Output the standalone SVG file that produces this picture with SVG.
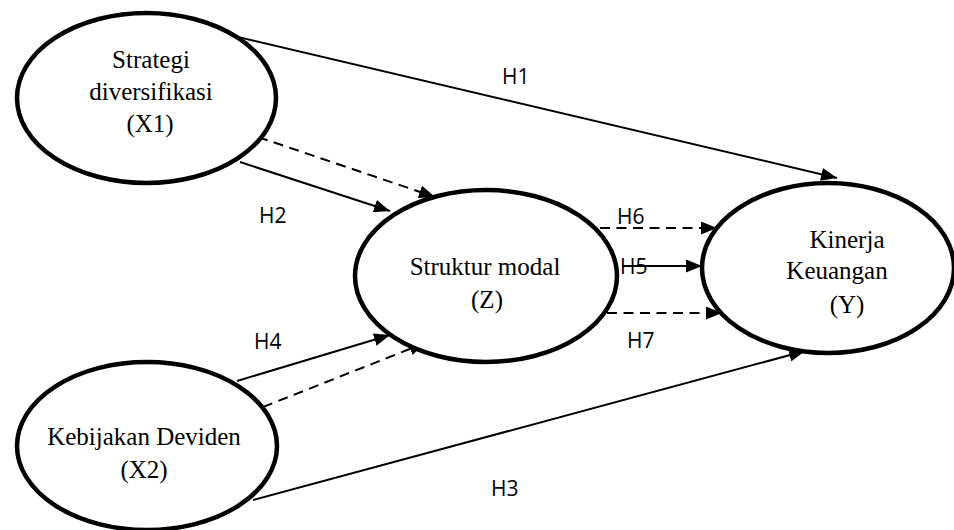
<svg xmlns="http://www.w3.org/2000/svg" width="954" height="530" viewBox="0 0 954 530">
<style>
.node{fill:#fff;stroke:#000;stroke-width:4.5}
.lbl{font-family:"Liberation Serif","Times New Roman",serif;font-size:25px;fill:#000;text-anchor:middle}
.h{font-family:"Open Sans","Liberation Sans",Arial,sans-serif;font-size:21px;fill:#000}
.c{stroke:#000;stroke-width:2;fill:none;marker-end:url(#arr)}
.d{stroke-dasharray:10 6.5}
</style>
<defs>
<marker id="arr" markerUnits="userSpaceOnUse" markerWidth="17" markerHeight="13" refX="16" refY="6.5" orient="auto">
<path d="M0,0 L16,6.5 L0,13 Z" fill="#000"/>
</marker>
</defs>
<rect width="954" height="530" fill="#fff"/>
<g id="connectors">
<line class="c" x1="238" y1="37" x2="837" y2="178"/>
<line class="c" x1="240" y1="162" x2="390" y2="211"/>
<line class="c d" x1="258" y1="137" x2="435" y2="197"/>
<line class="c d" x1="600" y1="228" x2="717" y2="228"/>
<line class="c" x1="622" y1="266" x2="702" y2="266"/>
<line class="c d" x1="607" y1="313" x2="722" y2="313"/>
<line class="c" x1="237" y1="381" x2="390" y2="335"/>
<line class="c d" x1="263" y1="407" x2="425" y2="343"/>
<line class="c" x1="253" y1="500" x2="805" y2="351"/>
</g>
<g id="node-x1">
<ellipse class="node" cx="146.5" cy="98" rx="129.5" ry="85"/>
<text class="lbl" x="151" y="68">Strategi</text>
<text class="lbl" x="151" y="100">diversifikasi</text>
<text class="lbl" x="150" y="132">(X1)</text>
</g>
<g id="node-x2">
<ellipse class="node" cx="147" cy="446" rx="130" ry="84"/>
<text class="lbl" x="144" y="445">Kebijakan Deviden</text>
<text class="lbl" x="144" y="478">(X2)</text>
</g>
<g id="node-z">
<ellipse class="node" cx="486" cy="276" rx="131" ry="86"/>
<text class="lbl" x="485" y="275">Struktur modal</text>
<text class="lbl" x="487" y="308">(Z)</text>
</g>
<g id="node-y">
<ellipse class="node" cx="828" cy="268" rx="126" ry="85"/>
<text class="lbl" x="847" y="248">Kinerja</text>
<text class="lbl" x="837" y="279">Keuangan</text>
<text class="lbl" x="847" y="313">(Y)</text>
</g>
<g id="labels">
<text class="h" x="502" y="84">H1</text>
<text class="h" x="259" y="223">H2</text>
<text class="h" x="491" y="496">H3</text>
<text class="h" x="254" y="349">H4</text>
<text class="h" x="620" y="274">H5</text>
<text class="h" x="617" y="224">H6</text>
<text class="h" x="627" y="348">H7</text>
</g>
</svg>
